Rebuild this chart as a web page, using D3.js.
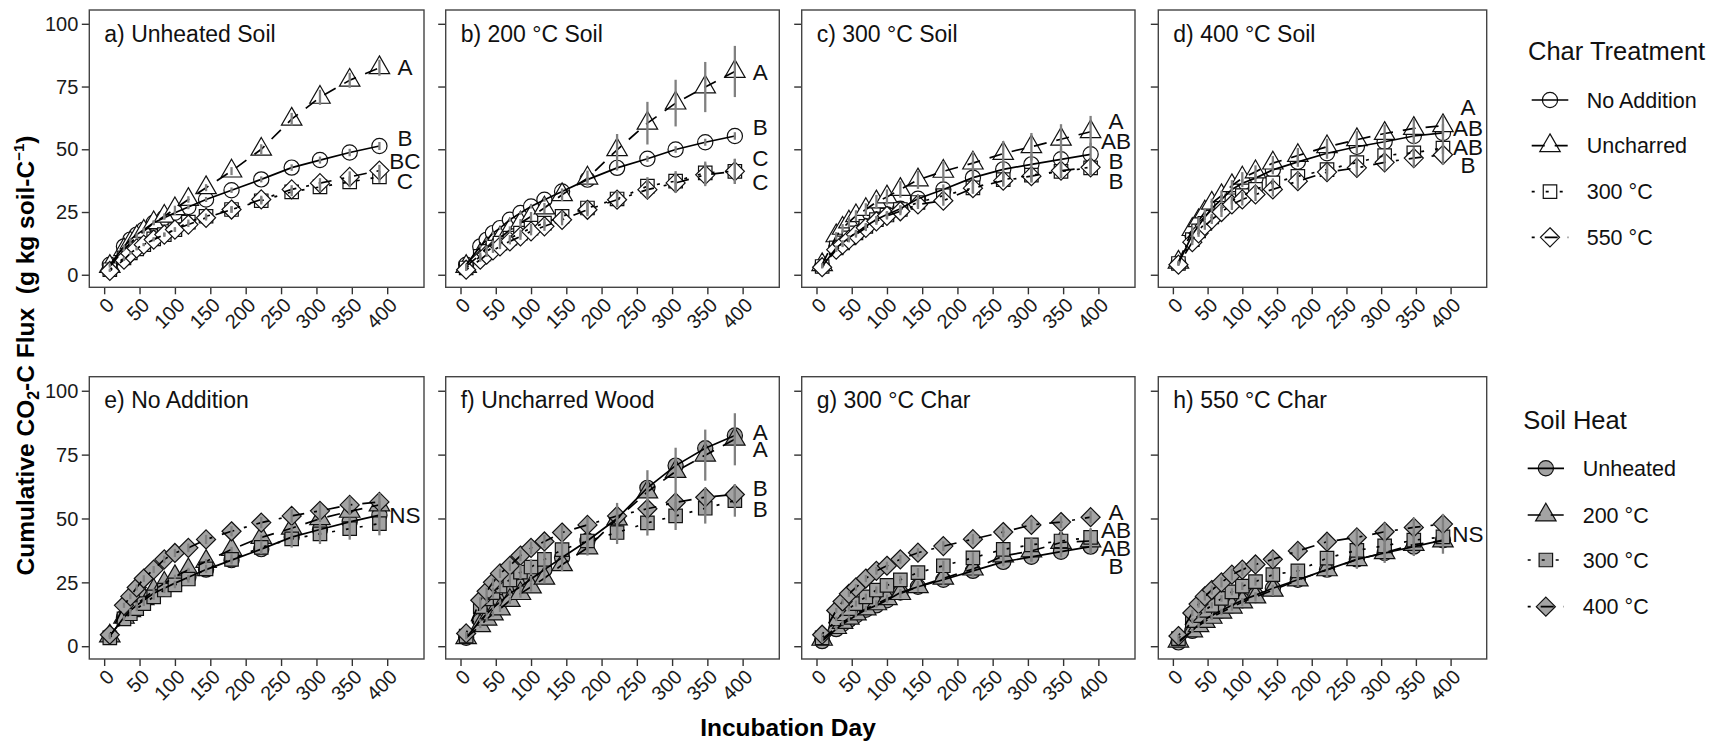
<!DOCTYPE html>
<html>
<head>
<meta charset="utf-8">
<script src="https://cdn.jsdelivr.net/npm/d3@7"></script>
<style>
  body { margin: 0; background: #fff; }
  svg { display: block; font-family: "Liberation Sans", Arial, sans-serif; }
</style>
</head>
<body>
<svg id="chart" width="1715" height="741"></svg>
<script>
// ---- data -------------------------------------------------------------
const days = [8, 28, 37, 46, 56, 70, 85, 100, 119, 144, 180, 222, 265, 305, 347, 389];
const xTicks = [0, 50, 100, 150, 200, 250, 300, 350, 400];
const yTicks = [0, 25, 50, 75, 100];

const soilHeats = ["Unheated", "200 °C", "300 °C", "400 °C"];
const charTreatments = ["No Addition", "Uncharred", "300 °C", "550 °C"];
const soilPanelTitles = ["a) Unheated Soil", "b) 200 °C Soil", "c) 300 °C Soil", "d) 400 °C Soil"];
const charPanelTitles = ["e) No Addition", "f) Uncharred Wood", "g) 300 °C Char", "h) 550 °C Char"];

// mean cumulative CO2-C (g kg soil-C^-1)
const unheatedNoAddition = [4, 11.3, 14, 16, 18, 20.7, 22.7, 24.7, 27, 30, 33.7, 38, 42.7, 45.7, 48.7, 51.3];
const unheatedUncharred  = [3.3, 10, 12.7, 15, 17.3, 20.7, 23.3, 26.3, 30, 34.7, 41.3, 50, 62, 70.7, 77.5, 82.5];
const unheatedChar300    = [2, 6.7, 8.7, 10.3, 12, 14.3, 16, 18, 21, 23.3, 26, 29.5, 33, 35, 37, 39];
const unheatedChar550    = [1.5, 6, 8.5, 10.5, 12, 14, 16, 18, 20, 22.7, 26, 30, 34, 36.5, 39, 41.5];

const soil200NoAddition  = [4, 11.3, 13.9, 16.6, 18.6, 21.9, 24.6, 27.2, 29.9, 33.2, 37.9, 42.6, 46.2, 49.9, 52.8, 55.3];
const soil200Uncharred   = [3.3, 8, 10.6, 12.6, 14.6, 17.9, 20.6, 23.2, 26.6, 31.9, 38.5, 49.8, 60.4, 68.4, 74.8, 81];
const soil200Char300     = [2.7, 7.3, 9.3, 11, 12.6, 14.6, 16.6, 18.6, 20.6, 23.3, 26.6, 30.2, 35.3, 37.3, 40.6, 41.2];
const soil200Char550     = [2, 6, 8, 9.7, 11.3, 13.3, 15.3, 17.3, 19.3, 21.9, 25.9, 29.9, 33.9, 36.6, 39.8, 41.2];

const soil300NoAddition  = [3.3, 10.7, 12.7, 14.7, 16.7, 19.3, 22, 24, 26.3, 30.3, 34, 38.7, 42, 44, 46, 48];
const soil300Uncharred   = [4, 15.5, 18.5, 21, 23.5, 26, 29, 31, 34, 37.8, 41.2, 44.5, 48.3, 51, 54, 57];
const soil300Char300     = [3.3, 10.7, 12.7, 14.7, 16.7, 19.3, 22, 23.8, 26, 28.8, 31.5, 34.6, 37.9, 39.7, 41.2, 42.6];
const soil300Char550     = [3, 10, 12, 14, 16, 18.7, 21.3, 23.5, 25.3, 28, 29.5, 34.5, 37.5, 39.3, 41.5, 42.8];

const soil400NoAddition  = [4.5, 16, 19.5, 23, 26.5, 30, 34, 36.5, 38.5, 41.8, 45, 48.4, 51, 53, 55.3, 56.5];
const soil400Uncharred   = [5, 18, 21.5, 25, 28.5, 31.5, 35.5, 38.5, 41, 44.5, 47.5, 51, 53.8, 56.3, 58.3, 59.4];
const soil400Char300     = [4.5, 14, 17.5, 20.5, 23, 26.5, 29.5, 31.5, 34, 36.6, 39.2, 41.9, 44.7, 47.5, 48.6, 50.5];
const soil400Char550     = [4, 13, 16.5, 19.5, 22, 25, 28, 30, 32, 34, 37.3, 40.9, 42.6, 44.8, 46.5, 47.8];

// standard errors
const unheatedNoAdditionSE = [0.5, 0.6, 0.6, 0.7, 0.7, 0.8, 0.8, 0.9, 0.9, 1, 1.1, 1.2, 1.3, 1.4, 1.5, 1.6];
const unheatedUncharredSE  = [0.5, 0.6, 0.7, 0.8, 0.9, 1, 1.1, 1.2, 1.3, 1.4, 1.6, 2, 2.5, 3, 3, 3.2];
const unheatedChar300SE    = [0.4, 0.5, 0.5, 0.6, 0.6, 0.7, 0.8, 0.9, 1, 1.1, 1.3, 1.5, 1.7, 2, 2.2, 2.4];
const unheatedChar550SE    = [0.4, 0.5, 0.5, 0.6, 0.6, 0.7, 0.8, 0.9, 1, 1.1, 1.3, 1.5, 1.7, 2, 2.2, 2.3];

const soil200NoAdditionSE  = [0.4, 0.5, 0.5, 0.6, 0.6, 0.7, 0.7, 0.8, 0.8, 0.9, 1, 1.1, 1.2, 1.3, 1.4, 1.5];
const soil200UncharredSE   = [0.6, 0.9, 1, 1.1, 1.2, 1.4, 1.6, 1.8, 2, 2.5, 3, 6.3, 8.5, 9.3, 10, 10.2];
const soil200Char300SE     = [0.5, 0.8, 0.9, 1, 1.1, 1.2, 1.4, 1.6, 1.8, 2.2, 2.6, 3, 3.6, 4, 4.5, 5];
const soil200Char550SE     = [0.5, 0.8, 0.9, 1, 1.1, 1.2, 1.4, 1.6, 1.8, 2.2, 2.6, 3, 3.6, 4, 4.5, 5];

const soil300NoAdditionSE  = [0.5, 0.8, 0.9, 1, 1, 1.1, 1.2, 1.3, 1.4, 1.6, 2, 2.6, 3.4, 4, 4.3, 4.6];
const soil300UncharredSE   = [0.6, 1.5, 1.7, 2, 2.2, 2.5, 2.8, 3, 3.3, 3.6, 4, 4.5, 5, 5.5, 6, 6.3];
const soil300Char300SE     = [0.5, 0.9, 1, 1.1, 1.2, 1.3, 1.4, 1.5, 1.6, 1.8, 2, 2.2, 2.4, 2.6, 2.8, 3];
const soil300Char550SE     = [0.5, 0.9, 1, 1.1, 1.2, 1.3, 1.4, 1.5, 1.6, 1.8, 2, 2.2, 2.4, 2.6, 2.8, 3];

const soil400NoAdditionSE  = [0.6, 1, 1.1, 1.2, 1.3, 1.4, 1.5, 1.6, 1.7, 1.8, 2, 2.2, 2.6, 3, 3.3, 3.5];
const soil400UncharredSE   = [0.6, 1.2, 1.4, 1.6, 1.8, 2, 2.2, 2.4, 2.6, 2.8, 3, 3.2, 3.4, 3.6, 3.8, 4];
const soil400Char300SE     = [0.5, 1, 1.1, 1.2, 1.3, 1.4, 1.5, 1.6, 1.7, 1.8, 1.9, 2, 2.1, 2.2, 2.3, 2.4];
const soil400Char550SE     = [0.5, 1.2, 1.4, 1.6, 1.8, 2, 2.2, 2.4, 2.6, 2.8, 3, 3.2, 3.4, 3.6, 3.8, 4];

// significance letters at the end of each panel
const letterDay = 425;
const soilPanelLetters = [["A", "B", "BC", "C"], ["A", "B", "C", "C"], ["A", "AB", "B", "B"], ["A", "AB", "AB", "B"]];
const soilPanelLetterY = [[82.7, 54.7, 45.3, 37.3], [81, 59, 46.5, 37], [61.3, 53.3, 45.3, 37.3], [66.7, 58.7, 50.9, 43.7]];
const charPanelLetters = [["NS"], ["A", "A", "B", "B"], ["A", "AB", "AB", "B"], ["NS"]];
const charPanelLetterY = [[51.6], [83.7, 77.1, 62.1, 53.6], [52.5, 45.5, 38.6, 31.6], [43.9]];

// ---- lookup grids [soil][char] ------------------------------------------
const meanGrid = [
  [unheatedNoAddition, unheatedUncharred, unheatedChar300, unheatedChar550],
  [soil200NoAddition, soil200Uncharred, soil200Char300, soil200Char550],
  [soil300NoAddition, soil300Uncharred, soil300Char300, soil300Char550],
  [soil400NoAddition, soil400Uncharred, soil400Char300, soil400Char550]
];
const seGrid = [
  [unheatedNoAdditionSE, unheatedUncharredSE, unheatedChar300SE, unheatedChar550SE],
  [soil200NoAdditionSE, soil200UncharredSE, soil200Char300SE, soil200Char550SE],
  [soil300NoAdditionSE, soil300UncharredSE, soil300Char300SE, soil300Char550SE],
  [soil400NoAdditionSE, soil400UncharredSE, soil400Char300SE, soil400Char550SE]
];

// ---- layout & styles ----------------------------------------------------
const colX = [[89.3, 424], [445.7, 779.3], [801.7, 1135], [1158.3, 1486.7]];
const rowY = [[10, 287.3], [376.7, 659]];
const xDomain = [-21, 452];
const yDomain = [-5, 105.5];

const R = 7.6; // base symbol radius
const shapes = [
  // circle
  () => { const p = d3.path(); p.arc(0, 0, R, 0, 2 * Math.PI); p.closePath(); return p.toString(); },
  // triangle (point up)
  () => { const r = R * 1.555, xc = R * 1.347, yc = R * 0.778; return `M0,${-r}L${xc},${yc}L${-xc},${yc}Z`; },
  // square
  () => { const h = R * 0.886; return `M${-h},${-h}H${h}V${h}H${-h}Z`; },
  // diamond
  () => { const h = R * 1.253; return `M0,${-h}L${h},0L0,${h}L${-h},0Z`; }
];
const dashes = [null, "13,10", "3,11", "3,10,13,10"];
const openFill = "#ffffff";
const greyFill = "#a3a3a3";
const barColor = "#808080";
const fontTick = 20, fontTitle = 23, fontLetter = 22.5;

const svg = d3.select("#chart");

function drawPanel(row, col, title, seriesList, fill, letters, letterY) {
  const x = d3.scaleLinear().domain(xDomain).range(colX[col]);
  const y = d3.scaleLinear().domain(yDomain).range([rowY[row][1], rowY[row][0]]);
  const g = svg.append("g");
  const [x0, x1] = colX[col], [y0, y1] = rowY[row];

  // axes (ticks only; labels drawn separately)
  const xAxis = g.append("g").attr("transform", `translate(0,${y1})`)
    .call(d3.axisBottom(x).tickValues(xTicks).tickSize(7).tickFormat(""));
  const yAxis = g.append("g").attr("transform", `translate(${x0},0)`)
    .call(d3.axisLeft(y).tickValues(yTicks).tickSize(7.5).tickFormat(""));
  [xAxis, yAxis].forEach(a => {
    a.select(".domain").remove();
    a.selectAll("line").attr("stroke", "#333").attr("stroke-width", 1.4);
  });

  // rotated day labels
  xTicks.forEach(t => {
    g.append("text")
      .attr("transform", `translate(${x(t) + 1},${y1 + 9}) rotate(-45)`)
      .attr("text-anchor", "end").attr("dy", "0.72em")
      .attr("font-size", fontTick).attr("fill", "#1a1a1a")
      .text(t);
  });
  if (col === 0) {
    yTicks.forEach(t => {
      g.append("text")
        .attr("x", x0 - 11).attr("y", y(t)).attr("dy", "0.36em")
        .attr("text-anchor", "end").attr("font-size", fontTick).attr("fill", "#1a1a1a")
        .text(t);
    });
  }

  // points
  seriesList.forEach(s => {
    g.append("g").selectAll("path").data(s.values).join("path")
      .attr("d", shapes[s.shape]())
      .attr("transform", (v, i) => `translate(${x(days[i])},${y(v)})`)
      .attr("fill", fill).attr("stroke", "#111").attr("stroke-width", 1.2);
  });
  // lines
  const line = d3.line().x((v, i) => x(days[i])).y(v => y(v));
  seriesList.forEach(s => {
    g.append("path").attr("d", line(s.values))
      .attr("fill", "none").attr("stroke", "#000").attr("stroke-width", 1.7)
      .attr("stroke-dasharray", dashes[s.shape]);
  });
  // error bars
  seriesList.forEach(s => {
    g.append("g").selectAll("line").data(s.values).join("line")
      .attr("x1", (v, i) => x(days[i])).attr("x2", (v, i) => x(days[i]))
      .attr("y1", (v, i) => y(v - s.se[i])).attr("y2", (v, i) => y(v + s.se[i]))
      .attr("stroke", barColor).attr("stroke-width", 2.3);
  });

  // panel frame
  g.append("rect").attr("x", x0).attr("y", y0).attr("width", x1 - x0).attr("height", y1 - y0)
    .attr("fill", "none").attr("stroke", "#444").attr("stroke-width", 1.4);

  // title
  g.append("text").attr("x", x0 + 15).attr("y", y0 + 31.5)
    .attr("font-size", fontTitle).attr("fill", "#111").text(title);

  // letters
  letters.forEach((l, i) => {
    g.append("text").attr("x", x(letterDay)).attr("y", y(letterY[i])).attr("dy", "0.36em")
      .attr("text-anchor", "middle").attr("font-size", fontLetter).attr("fill", "#111").text(l);
  });
}

// top row: one panel per soil heat, series are char treatments (open symbols)
soilHeats.forEach((sh, si) => {
  const series = charTreatments.map((ct, ci) => ({ values: meanGrid[si][ci], se: seGrid[si][ci], shape: ci }));
  drawPanel(0, si, soilPanelTitles[si], series, openFill, soilPanelLetters[si], soilPanelLetterY[si]);
});
// bottom row: one panel per char treatment, series are soil heats (grey symbols)
charTreatments.forEach((ct, ci) => {
  const series = soilHeats.map((sh, si) => ({ values: meanGrid[si][ci], se: seGrid[si][ci], shape: si }));
  drawPanel(1, ci, charPanelTitles[ci], series, greyFill, charPanelLetters[ci], charPanelLetterY[ci]);
});

// ---- legends ------------------------------------------------------------
function drawLegend(title, labels, fill, titleX, titleY, keyX0, keyX1, labelX, itemY) {
  const g = svg.append("g");
  g.append("text").attr("x", titleX).attr("y", titleY).attr("font-size", 25.5).attr("fill", "#111").text(title);
  labels.forEach((lab, i) => {
    const cy = itemY[i], cx = (keyX0 + keyX1) / 2;
    g.append("path").attr("d", shapes[i]()).attr("transform", `translate(${cx},${cy})`)
      .attr("fill", fill).attr("stroke", "#111").attr("stroke-width", 1.2);
    g.append("line").attr("x1", keyX0).attr("x2", keyX1).attr("y1", cy).attr("y2", cy)
      .attr("stroke", "#000").attr("stroke-width", 1.7).attr("stroke-dasharray", dashes[i]);
    g.append("text").attr("x", labelX).attr("y", cy).attr("dy", "0.36em")
      .attr("font-size", 21.5).attr("fill", "#111").text(lab);
  });
}
drawLegend("Char Treatment", ["No Addition", "Uncharred", "300 °C", "550 °C"], openFill,
  1528, 60, 1531.7, 1568.3, 1586.7, [100, 145.7, 191.7, 237.3]);
drawLegend("Soil Heat", ["Unheated", "200 °C", "300 °C", "400 °C"], greyFill,
  1523.3, 429.3, 1527.7, 1564, 1582.7, [468.3, 515, 560, 606.7]);

// ---- axis titles --------------------------------------------------------
svg.append("text").attr("x", 788).attr("y", 736).attr("text-anchor", "middle")
  .attr("font-size", 24.5).attr("font-weight", "bold").attr("fill", "#000").text("Incubation Day");

const yt = svg.append("text").attr("transform", "translate(34,355.5) rotate(-90)")
  .attr("text-anchor", "middle").attr("font-size", 24.5).attr("font-weight", "bold")
  .attr("fill", "#000").style("white-space", "pre");
yt.append("tspan").text("Cumulative CO");
yt.append("tspan").attr("font-size", 16).attr("dy", 5).text("2");
yt.append("tspan").attr("dy", -5).text("-C Flux  (g kg soil-C");
yt.append("tspan").attr("font-size", 15).attr("dy", -10).text("\u22121");
yt.append("tspan").attr("dy", 10).text(")");
</script>
</body>
</html>
